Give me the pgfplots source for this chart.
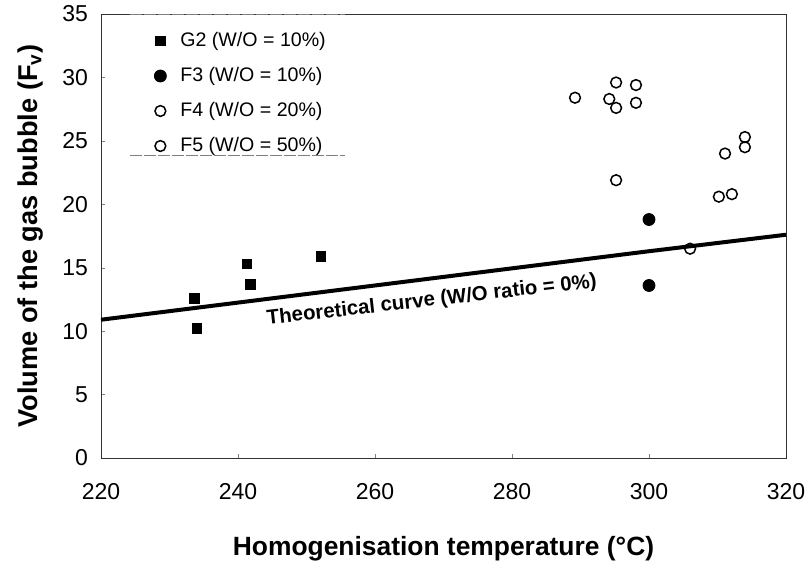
\documentclass[border=0pt]{standalone}
\usepackage{fontspec}
\setmainfont{Liberation Sans}
\usepackage{pgfplots}
\pgfplotsset{compat=1.18}
\begin{document}
\begin{tikzpicture}
\begin{axis}[
  at={(0,0)}, anchor=south west,
  scale only axis, width=342.5pt, height=222pt,
  xmin=220, xmax=320, ymin=0, ymax=35,
  xtick={220,240,...,320}, ytick={0,5,...,35},
  tick pos=left, tick align=inside, major tick length=2pt,
  axis line style={line width=0.4pt, black!80},
  /pgf/number format/assume math mode=true,
  tick label style={font=\fontsize{11.5}{13}\selectfont},
  xticklabel style={yshift=-9pt},
  yticklabel style={xshift=-3pt},
  xlabel={\textbf{Homogenisation temperature (°C)}},
  ylabel={\textbf{Volume of the gas bubble (F$_\mathbf{v}$)}},
  label style={font=\fontsize{13.2}{15}\selectfont},
  xlabel style={at={(axis description cs:0.5,-0.205)}, anchor=center},
  ylabel style={at={(axis description cs:-0.1036,0.5)}, anchor=center, rotate=0, font=\fontsize{13.6}{15}\selectfont},
  legend style={at={(axis description cs:0.0715,0.9775)}, anchor=north west, draw=none, fill=none,
    font=\fontsize{9.8}{11}\selectfont, row sep=4.9pt, inner sep=2pt},
  legend image code/.code={\draw[#1] plot coordinates {(0pt,0pt)}; \path[draw=none,fill=none] (-3pt,0pt) rectangle (8pt,0pt);},
  legend cell align=left,
  clip=false,
]
\addplot[only marks, mark=square*, mark size=2.4pt, black] coordinates {
 (241.3,15.3) (241.8,13.7) (233.6,12.6) (234.0,10.2) (252.1,15.9)};
\addlegendentry{G2 (W/O = 10\%)}
\addplot[only marks, mark=*, mark size=3pt, black] coordinates {
 (300.0,18.8) (300.0,13.6)};
\addlegendentry{F3 (W/O = 10\%)}
\addplot[only marks, mark=o, mark size=2.7pt, line width=0.75pt, black] coordinates {
 (289.2,28.4) (295.2,29.6) (298.1,29.4) (294.2,28.3) (295.2,27.6) (298.1,28.0) (295.2,21.9)};
\addlegendentry{F4 (W/O = 20\%)}
\addplot[only marks, mark=o, mark size=2.7pt, line width=0.75pt, black] coordinates {
 (306.0,16.5) (310.2,20.6) (312.1,20.8) (311.1,24.0) (314.0,25.3) (314.0,24.5)};
\addlegendentry{F5 (W/O = 50\%)}
\addplot[no marks, line width=2pt, black] coordinates {
 (220,10.9) (240,12.25) (260,13.6) (280,14.95) (300,16.3) (320,17.6)};
\node[rotate=6.5, font=\bfseries\fontsize{10.2}{12}\selectfont] at (axis cs:268.3,12.4) {Theoretical curve (W/O ratio = 0\%)};
\draw[gray, line width=0.4pt, dash pattern=on 6pt off 1pt] (axis description cs:0.042,0.998) -- (axis description cs:0.356,0.998);
\draw[gray, line width=0.4pt, dash pattern=on 6pt off 1pt] (axis description cs:0.042,0.682) -- (axis description cs:0.356,0.682);
\end{axis}
\pgfresetboundingbox
\path[use as bounding box] (-50.5pt,-53pt) rectangle (354pt,229pt);
\end{tikzpicture}
\end{document}
